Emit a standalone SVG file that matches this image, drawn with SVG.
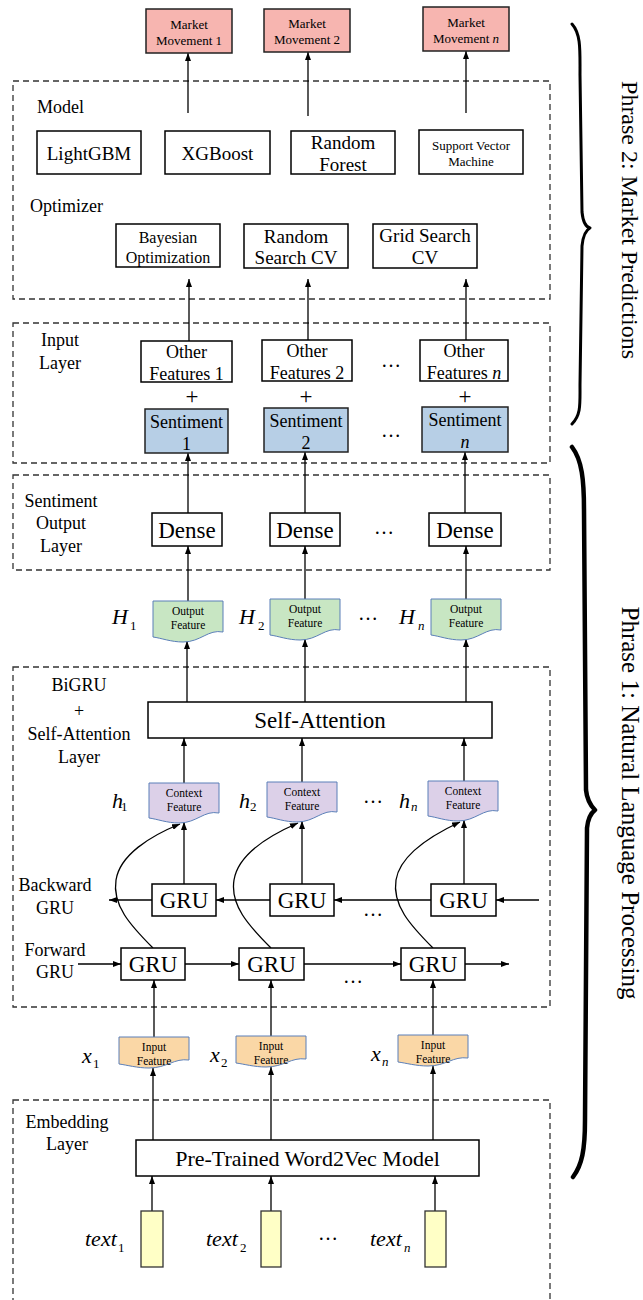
<svg xmlns="http://www.w3.org/2000/svg" width="643" height="1300" viewBox="0 0 643 1300">
<style>
text{font-family:"Liberation Serif","Times New Roman",serif;fill:#000}
.c{text-anchor:middle}
.box{fill:#fff;stroke:#000;stroke-width:1.5}
.mm{fill:#f7b5b0;stroke:#222;stroke-width:1.5}
.sent{fill:#b7cfe6;stroke:#222;stroke-width:1.5}
.doc{stroke:#5b7fb8;stroke-width:1}
.out{fill:#c8e6c3}
.ctx{fill:#dcd0e8}
.inp{fill:#fad7a6}
.txt{fill:#ffffc6;stroke:#333;stroke-width:1.3}
.dash{fill:none;stroke:#333;stroke-width:1.3;stroke-dasharray:6 4}
.ar{fill:none;stroke:#000;stroke-width:1.3;marker-end:url(#ah)}
.brace{fill:none;stroke:#000;stroke-linecap:round;stroke-linejoin:round}
.it{font-style:italic}
</style>
<defs>
<marker id="ah" viewBox="0 0 8 6" refX="8" refY="3" markerWidth="8" markerHeight="6" orient="auto" markerUnits="userSpaceOnUse"><path d="M0,0 L8,3 L0,6 z" fill="#000"/></marker>
<path id="d41" d="M0,0 H70 V31 C55,28 48,41 30,41 C18,41 8,37 0,36 Z"/>
<path id="d40" d="M0,0 H70 V30 C55,27 48,40 30,40 C18,40 8,36 0,35 Z"/>
<path id="d31" d="M0,0 H70 V23 C55,21 48,31 30,31 C18,31 8,28 0,27 Z"/>
</defs>
<rect width="643" height="1300" fill="#fff"/>

<g id="layers">
<rect class="dash" x="13" y="81" width="537" height="218"/>
<rect class="dash" x="13" y="323" width="537" height="140"/>
<rect class="dash" x="13" y="475" width="537" height="95"/>
<rect class="dash" x="13" y="667" width="537" height="340"/>
<rect class="dash" x="13" y="1100" width="537" height="215"/>
<text x="37" y="113" font-size="18">Model</text>
<text x="30" y="212" font-size="18">Optimizer</text>
<text class="c" x="60" y="345.5" font-size="18">Input</text>
<text class="c" x="60" y="368.5" font-size="18">Layer</text>
<text class="c" x="61" y="506.5" font-size="18">Sentiment</text>
<text class="c" x="61" y="528.5" font-size="18">Output</text>
<text class="c" x="61" y="551.5" font-size="18">Layer</text>
<text class="c" x="79" y="691" font-size="18">BiGRU</text>
<text class="c" x="79" y="717" font-size="18">+</text>
<text class="c" x="79" y="740" font-size="18">Self-Attention</text>
<text class="c" x="79" y="763" font-size="18">Layer</text>
<text class="c" x="55" y="891" font-size="18">Backward</text>
<text class="c" x="55" y="914" font-size="18">GRU</text>
<text class="c" x="55" y="956" font-size="18">Forward</text>
<text class="c" x="55" y="978" font-size="18">GRU</text>
<text class="c" x="67" y="1128" font-size="18">Embedding</text>
<text class="c" x="67" y="1150" font-size="18">Layer</text>
</g>

<g id="connectors">
<line class="ar" x1="188" y1="113" x2="188" y2="53"/>
<line class="ar" x1="308" y1="116" x2="308" y2="52"/>
<line class="ar" x1="466" y1="113" x2="466" y2="51"/>
<line class="ar" x1="189" y1="341" x2="189" y2="279"/>
<line class="ar" x1="308" y1="340" x2="308" y2="279"/>
<line class="ar" x1="466" y1="340" x2="466" y2="279"/>
<line class="ar" x1="188" y1="513" x2="188" y2="453"/>
<line class="ar" x1="305" y1="513" x2="305" y2="452"/>
<line class="ar" x1="465" y1="513" x2="465" y2="452"/>
<line class="ar" x1="188" y1="601" x2="188" y2="546"/>
<line class="ar" x1="305" y1="599" x2="305" y2="546"/>
<line class="ar" x1="466" y1="599" x2="466" y2="546"/>
<line class="ar" x1="187" y1="702" x2="187" y2="641"/>
<line class="ar" x1="305" y1="702" x2="305" y2="639"/>
<line class="ar" x1="466" y1="702" x2="466" y2="639"/>
<line class="ar" x1="184" y1="783" x2="184" y2="738"/>
<line class="ar" x1="302" y1="782" x2="302" y2="738"/>
<line class="ar" x1="464" y1="781" x2="464" y2="738"/>
<line class="ar" x1="184" y1="884" x2="184" y2="822"/>
<line class="ar" x1="302" y1="884" x2="302" y2="821"/>
<line class="ar" x1="464" y1="884" x2="464" y2="820"/>
<line class="ar" x1="539" y1="900" x2="496" y2="900"/>
<line class="ar" x1="431" y1="900" x2="334" y2="900"/>
<line class="ar" x1="270" y1="900" x2="216" y2="900"/>
<line class="ar" x1="152" y1="900" x2="109" y2="900"/>
<line class="ar" x1="78" y1="964" x2="121" y2="964"/>
<line class="ar" x1="185" y1="964" x2="239" y2="964"/>
<line class="ar" x1="304" y1="964" x2="401" y2="964"/>
<line class="ar" x1="465" y1="964" x2="509" y2="964"/>
<path class="ar" d="M153,948 C130,925 112,905 116,880 C120,855 150,836 180,824"/>
<path class="ar" d="M271,948 C248,925 230,905 234,880 C238,855 268,836 298,823"/>
<path class="ar" d="M433,948 C410,925 392,905 396,880 C400,855 430,836 460,822"/>
<line class="ar" x1="154" y1="1037" x2="154" y2="980"/>
<line class="ar" x1="271" y1="1036" x2="271" y2="980"/>
<line class="ar" x1="433" y1="1035" x2="433" y2="980"/>
<line class="ar" x1="153" y1="1140" x2="153" y2="1068"/>
<line class="ar" x1="271" y1="1140" x2="271" y2="1067"/>
<line class="ar" x1="433" y1="1140" x2="433" y2="1066"/>
<line class="ar" x1="152" y1="1211" x2="152" y2="1176"/>
<line class="ar" x1="271" y1="1211" x2="271" y2="1176"/>
<line class="ar" x1="435" y1="1211" x2="435" y2="1176"/>
</g>

<g id="mm1"><rect class="mm" x="146" y="9" width="86" height="44"/><text class="c" x="189" y="28.5" font-size="13">Market</text><text class="c" x="189" y="44.5" font-size="13">Movement 1</text></g>
<g id="mm2"><rect class="mm" x="264" y="9" width="86" height="43"/><text class="c" x="307" y="27.5" font-size="13">Market</text><text class="c" x="307" y="43.5" font-size="13">Movement 2</text></g>
<g id="mmn"><rect class="mm" x="423" y="7" width="86" height="44"/><text class="c" x="466" y="26.5" font-size="13">Market</text><text class="c" x="466" y="42.5" font-size="13">Movement <tspan class="it">n</tspan></text></g>

<g id="lightgbm"><rect class="box" x="37" y="131" width="104" height="43"/><text class="c" x="89" y="159.5" font-size="19">LightGBM</text></g>
<g id="xgboost"><rect class="box" x="165" y="131" width="105" height="43"/><text class="c" x="217.5" y="159.5" font-size="19">XGBoost</text></g>
<g id="rf"><rect class="box" x="291" y="131" width="104" height="43"/><text class="c" x="343" y="149" font-size="19">Random</text><text class="c" x="343" y="171" font-size="19">Forest</text></g>
<g id="svm"><rect class="box" x="419" y="130" width="104" height="44"/><text class="c" x="471" y="149.5" font-size="13">Support Vector</text><text class="c" x="471" y="165.5" font-size="13">Machine</text></g>

<g id="bayes"><rect class="box" x="116" y="224" width="104" height="43"/><text class="c" x="168" y="242.5" font-size="16">Bayesian</text><text class="c" x="168" y="262.5" font-size="16">Optimization</text></g>
<g id="rscv"><rect class="box" x="244" y="224" width="104" height="44"/><text class="c" x="296" y="243" font-size="19">Random</text><text class="c" x="296" y="264" font-size="19">Search CV</text></g>
<g id="gscv"><rect class="box" x="373" y="224" width="104" height="44"/><text class="c" x="425" y="242" font-size="19">Grid Search</text><text class="c" x="425" y="264" font-size="19">CV</text></g>

<g id="of1"><rect class="box" x="141" y="341" width="91" height="41"/><text class="c" x="186.5" y="357.5" font-size="18">Other</text><text class="c" x="186.5" y="379.5" font-size="18">Features 1</text></g>
<g id="of2"><rect class="box" x="262" y="340" width="90" height="41"/><text class="c" x="307" y="356.5" font-size="18">Other</text><text class="c" x="307" y="378.5" font-size="18">Features 2</text></g>
<g id="ofn"><rect class="box" x="420" y="340" width="88" height="41"/><text class="c" x="464" y="356.5" font-size="18">Other</text><text class="c" x="464" y="378.5" font-size="18">Features <tspan class="it">n</tspan></text></g>
<g id="plus"><text class="c" x="192" y="404" font-size="23">+</text><text class="c" x="306" y="404" font-size="23">+</text><text class="c" x="465" y="404" font-size="23">+</text></g>
<g id="s1"><rect class="sent" x="145" y="409" width="83" height="44"/><text class="c" x="186.5" y="427.5" font-size="18">Sentiment</text><text class="c" x="186.5" y="450" font-size="18">1</text></g>
<g id="s2"><rect class="sent" x="264" y="408" width="84" height="44"/><text class="c" x="306" y="426.5" font-size="18">Sentiment</text><text class="c" x="306" y="449" font-size="18">2</text></g>
<g id="sn"><rect class="sent" x="422" y="407" width="86" height="45"/><text class="c" x="465" y="425.5" font-size="18">Sentiment</text><text class="c it" x="465" y="448" font-size="18">n</text></g>

<g id="dense1"><rect class="box" x="152" y="513" width="70" height="33"/><text class="c" x="187" y="537.5" font-size="23">Dense</text></g>
<g id="dense2"><rect class="box" x="270" y="513" width="70" height="33"/><text class="c" x="305" y="537.5" font-size="23">Dense</text></g>
<g id="densen"><rect class="box" x="429" y="513" width="72" height="33"/><text class="c" x="465" y="537.5" font-size="23">Dense</text></g>

<g id="out1"><use href="#d41" x="153" y="601" class="doc out"/><text class="c" x="188" y="615" font-size="11.5">Output</text><text class="c" x="188" y="629" font-size="11.5">Feature</text><text class="it" x="112" y="624" font-size="22">H</text><text x="130" y="630" font-size="13">1</text></g>
<g id="out2"><use href="#d41" x="270" y="599" class="doc out"/><text class="c" x="305" y="613" font-size="11.5">Output</text><text class="c" x="305" y="627" font-size="11.5">Feature</text><text class="it" x="239" y="624" font-size="22">H</text><text x="258" y="630" font-size="13">2</text></g>
<g id="outn"><use href="#d41" x="431" y="599" class="doc out"/><text class="c" x="466" y="613" font-size="11.5">Output</text><text class="c" x="466" y="627" font-size="11.5">Feature</text><text class="it" x="399" y="624" font-size="22">H</text><text class="it" x="418" y="630" font-size="13">n</text></g>

<g id="selfatt"><rect class="box" x="148" y="702" width="344" height="36"/><text class="c" x="320" y="728" font-size="23">Self-Attention</text></g>

<g id="ctx1"><use href="#d40" x="149" y="783" class="doc ctx"/><text class="c" x="184" y="797" font-size="11.5">Context</text><text class="c" x="184" y="811" font-size="11.5">Feature</text><text class="it" x="112" y="808" font-size="22">h</text><text x="121" y="811" font-size="13">1</text></g>
<g id="ctx2"><use href="#d40" x="267" y="782" class="doc ctx"/><text class="c" x="302" y="796" font-size="11.5">Context</text><text class="c" x="302" y="810" font-size="11.5">Feature</text><text class="it" x="239" y="808" font-size="22">h</text><text x="250" y="811" font-size="13">2</text></g>
<g id="ctxn"><use href="#d40" x="428" y="781" class="doc ctx"/><text class="c" x="463" y="795" font-size="11.5">Context</text><text class="c" x="463" y="809" font-size="11.5">Feature</text><text class="it" x="399" y="808" font-size="22">h</text><text class="it" x="411" y="811" font-size="13">n</text></g>

<g id="bgru1"><rect class="box" x="152" y="884" width="64" height="32"/><text class="c" x="184" y="908" font-size="23">GRU</text></g>
<g id="bgru2"><rect class="box" x="270" y="884" width="64" height="32"/><text class="c" x="302" y="908" font-size="23">GRU</text></g>
<g id="bgrun"><rect class="box" x="431" y="884" width="65" height="32"/><text class="c" x="463.5" y="908" font-size="23">GRU</text></g>
<g id="fgru1"><rect class="box" x="121" y="948" width="64" height="32"/><text class="c" x="153" y="972" font-size="23">GRU</text></g>
<g id="fgru2"><rect class="box" x="239" y="948" width="65" height="32"/><text class="c" x="271.5" y="972" font-size="23">GRU</text></g>
<g id="fgrun"><rect class="box" x="401" y="948" width="64" height="32"/><text class="c" x="433" y="972" font-size="23">GRU</text></g>

<g id="inp1"><use href="#d31" x="119" y="1037" class="doc inp"/><text class="c" x="154" y="1051" font-size="11.5">Input</text><text class="c" x="154" y="1065" font-size="11.5">Feature</text><text class="it" x="82" y="1063" font-size="22">x</text><text x="93" y="1068" font-size="13">1</text></g>
<g id="inp2"><use href="#d31" x="236" y="1036" class="doc inp"/><text class="c" x="271" y="1050" font-size="11.5">Input</text><text class="c" x="271" y="1064" font-size="11.5">Feature</text><text class="it" x="210" y="1062" font-size="22">x</text><text x="221" y="1067" font-size="13">2</text></g>
<g id="inpn"><use href="#d31" x="398" y="1035" class="doc inp"/><text class="c" x="433" y="1049" font-size="11.5">Input</text><text class="c" x="433" y="1063" font-size="11.5">Feature</text><text class="it" x="371" y="1061" font-size="22">x</text><text class="it" x="382" y="1066" font-size="13">n</text></g>

<g id="w2v"><rect class="box" x="136" y="1140" width="343" height="36"/><text class="c" x="307.5" y="1165.5" font-size="22">Pre-Trained Word2Vec Model</text></g>

<g id="text1"><rect class="txt" x="141" y="1211" width="22" height="56"/><text class="it" x="85" y="1246" font-size="22">text</text><text x="118" y="1252" font-size="13">1</text></g>
<g id="text2"><rect class="txt" x="261" y="1211" width="20" height="56"/><text class="it" x="206" y="1246" font-size="22">text</text><text x="240" y="1252" font-size="13">2</text></g>
<g id="textn"><rect class="txt" x="425" y="1211" width="21" height="56"/><text class="it" x="370" y="1246" font-size="22">text</text><text class="it" x="404" y="1252" font-size="13">n</text></g>

<g id="ellipses" font-size="20">
<text class="c" x="391" y="367">…</text>
<text class="c" x="391" y="437">…</text>
<text class="c" x="384" y="534">…</text>
<text class="c" x="368" y="620">…</text>
<text class="c" x="373" y="803">…</text>
<text class="c" x="373" y="916">…</text>
<text class="c" x="353" y="983">…</text>
<text class="c" x="328" y="1240">…</text>
</g>

<g id="phase2">
<path class="brace" stroke-width="3" d="M572,24 C581,34 580,50 580,75 L582,212 C583,222 586,227 590,228 C586,230 583,236 582,246 L580,385 C580,405 581,415 572,424"/>
<text class="c" font-size="24" transform="translate(630,220) rotate(90)" y="8">Phrase 2: Market Predictions</text>
</g>
<g id="phase1">
<path class="brace" stroke-width="4.5" d="M572,447 C582,460 584,480 584,510 L586,790 C587,800 591,806 595,810 C591,813 588,818 587,828 L585,1120 C585,1150 582,1165 573,1177"/>
<text class="c" font-size="25" transform="translate(630,803) rotate(90)" y="8">Phrase 1: Natural Language Processing</text>
</g>
</svg>
